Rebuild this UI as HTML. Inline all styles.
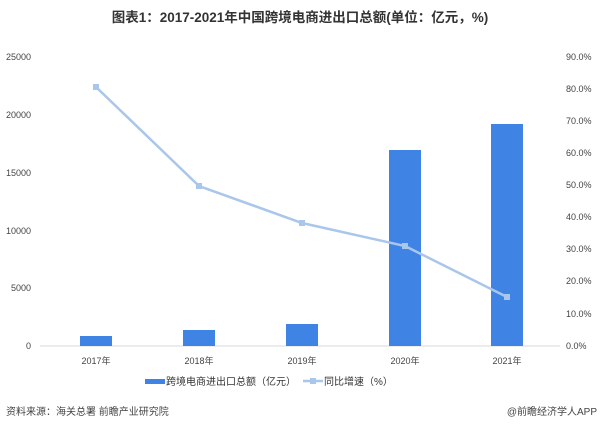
<!DOCTYPE html><html><head><meta charset="utf-8"><style>
body{margin:0;background:#fff;width:600px;height:431px;overflow:hidden;font-family:"Liberation Sans","Noto Sans CJK SC",sans-serif}
</style></head><body>
<svg width="600" height="431" xmlns="http://www.w3.org/2000/svg" font-family="Liberation Sans, Noto Sans CJK SC, sans-serif">
<text x="300" y="22" text-anchor="middle" font-size="13.5" font-weight="bold" fill="#333">图表1：2017-2021年中国跨境电商进出口总额(单位：亿元，%)</text>
<g font-size="9" fill="#444">
<text x="31" y="60" text-anchor="end">25000</text>
<text x="31" y="118" text-anchor="end">20000</text>
<text x="31" y="176" text-anchor="end">15000</text>
<text x="31" y="234" text-anchor="end">10000</text>
<text x="31" y="291" text-anchor="end">5000</text>
<text x="31" y="349" text-anchor="end">0</text>
<g text-anchor="start">
<text x="566" y="60">90.0%</text><text x="566" y="92">80.0%</text><text x="566" y="124">70.0%</text>
<text x="566" y="156">60.0%</text><text x="566" y="188">50.0%</text><text x="566" y="220">40.0%</text>
<text x="566" y="252">30.0%</text><text x="566" y="284">20.0%</text><text x="566" y="317">10.0%</text>
<text x="566" y="349">0.0%</text></g>
</g>
<line x1="40" y1="346" x2="560" y2="346" stroke="#d9d9d9"/>
<g fill="#3f84e5">
<rect x="80" y="336" width="32" height="10"/>
<rect x="183" y="330" width="32" height="16"/>
<rect x="286" y="324" width="32" height="22"/>
<rect x="389" y="150" width="32" height="196"/>
<rect x="491" y="124" width="32" height="222"/>
</g>
<polyline points="96,87 199,186 302,223 405,246 507,297" fill="none" stroke="#a9c6eb" stroke-width="2.5"/>
<g fill="#a9c6eb">
<rect x="93" y="84" width="6" height="6"/><rect x="196" y="183" width="6" height="6"/>
<rect x="299" y="220" width="6" height="6"/><rect x="402" y="243" width="6" height="6"/>
<rect x="504" y="294" width="6" height="6"/></g>
<g font-size="9" fill="#444" text-anchor="middle">
<text x="96" y="364">2017年</text><text x="199" y="364">2018年</text><text x="302" y="364">2019年</text>
<text x="405" y="364">2020年</text><text x="507" y="364">2021年</text></g>
<rect x="145" y="379" width="20" height="5" fill="#3f84e5"/>
<text x="166" y="385" font-size="10" fill="#333">跨境电商进出口总额（亿元）</text>
<line x1="303" y1="381" x2="323" y2="381" stroke="#a9c6eb" stroke-width="2.5"/>
<rect x="310" y="378" width="6" height="6" fill="#a9c6eb"/>
<text x="324" y="385" font-size="10" fill="#333">同比增速（%）</text>
<text x="6" y="415" font-size="10" fill="#444">资料来源：海关总署 前瞻产业研究院</text>
<text x="597" y="415" font-size="10" fill="#444" text-anchor="end">@前瞻经济学人APP</text>
</svg>
</body></html>
